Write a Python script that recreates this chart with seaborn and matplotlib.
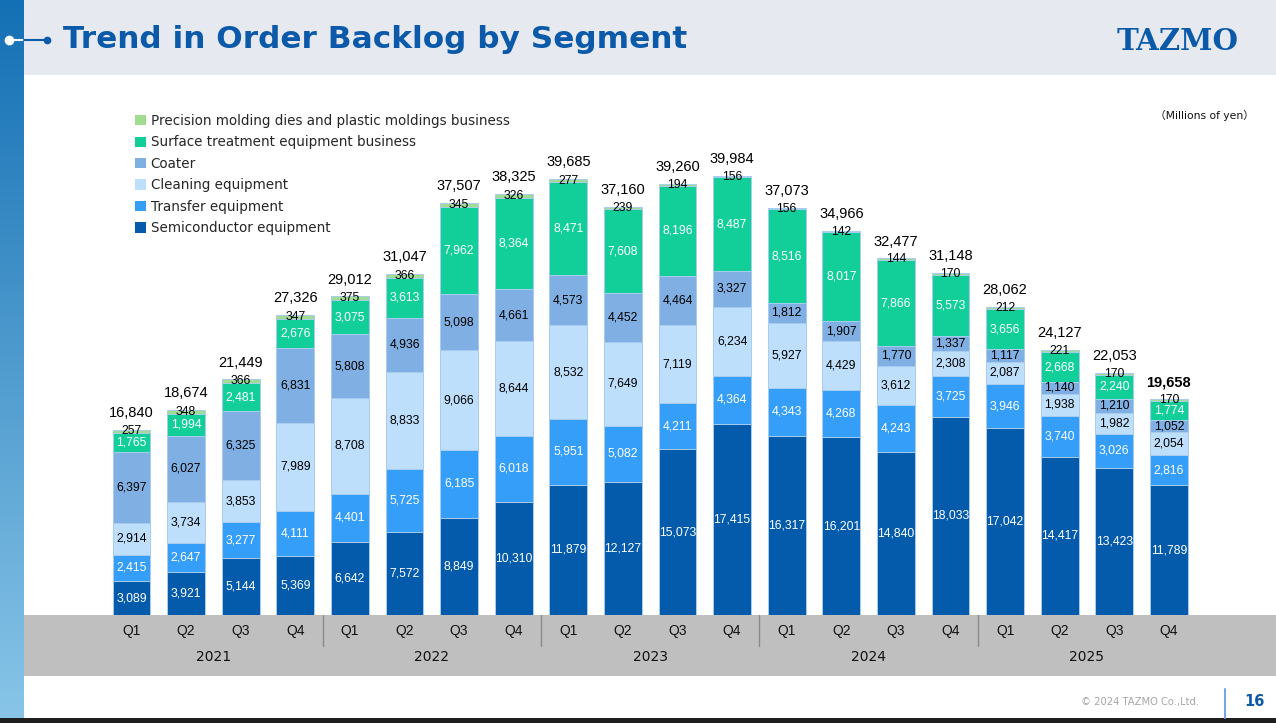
import numpy as np
import matplotlib
matplotlib.use("Agg")
import matplotlib.pyplot as plt
import seaborn as sns
import matplotlib.transforms as mtransforms
from matplotlib.patches import Rectangle, Patch
from matplotlib.lines import Line2D
from matplotlib import font_manager

# ---------------- data ----------------
years = ["2021", "2022", "2023", "2024", "2025"]
quarters = ["Q1", "Q2", "Q3", "Q4"]
periods = [f"{y} {q}" for y in years for q in quarters]

semiconductor = [3089, 3921, 5144, 5369, 6642, 7572, 8849, 10310, 11879, 12127,
                 15073, 17415, 16317, 16201, 14840, 18033, 17042, 14417, 13423, 11789]
transfer = [2415, 2647, 3277, 4111, 4401, 5725, 6185, 6018, 5951, 5082,
            4211, 4364, 4343, 4268, 4243, 3725, 3946, 3740, 3026, 2816]
cleaning = [2914, 3734, 3853, 7989, 8708, 8833, 9066, 8644, 8532, 7649,
            7119, 6234, 5927, 4429, 3612, 2308, 2087, 1938, 1982, 2054]
coater = [6397, 6027, 6325, 6831, 5808, 4936, 5098, 4661, 4573, 4452,
          4464, 3327, 1812, 1907, 1770, 1337, 1117, 1140, 1210, 1052]
surface = [1765, 1994, 2481, 2676, 3075, 3613, 7962, 8364, 8471, 7608,
           8196, 8487, 8516, 8017, 7866, 5573, 3656, 2668, 2240, 1774]
precision = [257, 348, 366, 347, 375, 366, 345, 326, 277, 239,
             194, 156, 156, 142, 144, 170, 212, 221, 170, 170]
totals = [16840, 18674, 21449, 27326, 29012, 31047, 37507, 38325, 39685, 37160,
          39260, 39984, 37073, 34966, 32477, 31148, 28062, 24127, 22053, 19658]

segment_names = ["Semiconductor equipment", "Transfer equipment", "Cleaning equipment",
                 "Coater", "Surface treatment equipment business",
                 "Precision molding dies and plastic moldings business"]

# ---------------- style ----------------
colors = ["#045aab", "#359ef9", "#bddffb", "#80b0e3", "#12cf99", "#a2dc91"]
label_colors = ["white", "white", "black", "black", "white", "black"]
edge = "#a9cdf0"
blue_txt = "#0b5aa9"

sns.set_theme(style="white")
plt.rcParams["font.family"] = ["DejaVu Sans"]

installed = {f.name for f in font_manager.fontManager.ttflist}
if "Liberation Sans Narrow" in installed:
    seg_font, seg_fs = "Liberation Sans Narrow", 10.2
else:
    seg_font, seg_fs = "Liberation Sans", 8.8
title_font = "DejaVu Sans Condensed" if "DejaVu Sans Condensed" in installed else "DejaVu Sans"

W, H = 1276, 723
fig = plt.figure(figsize=(W / 100, H / 100), dpi=100)
fig.patch.set_facecolor("white")


def fx(px):
    return px / W


def fy(py):
    return 1 - py / H


# background decorations
fig.add_artist(Rectangle((fx(24), fy(75)), 1 - fx(24), fy(0) - fy(75),
                         transform=fig.transFigure, facecolor="#e6e9f0", edgecolor="none", zorder=-2))
fig.add_artist(Rectangle((fx(22), fy(676)), 1 - fx(22), fy(615) - fy(676),
                         transform=fig.transFigure, facecolor="#bfbfbf", edgecolor="none", zorder=-2))
fig.add_artist(Rectangle((0, 0), 1, fy(718), transform=fig.transFigure,
                         facecolor="#1e1e1e", edgecolor="none", zorder=-2))

strip = fig.add_axes([0, fy(718), fx(24), fy(0) - fy(718)])
top_c = np.array([0x14, 0x70, 0xb4]) / 255
bot_c = np.array([0x88, 0xc5, 0xe8]) / 255
t = np.linspace(0, 1, 256)[:, None, None]
grad = top_c[None, None, :] * (1 - t) + bot_c[None, None, :] * t
strip.imshow(grad, aspect="auto", extent=[0, 1, 0, 1])
strip.set_axis_off()

# ---------------- main chart ----------------
ax = fig.add_axes([fx(22), fy(615), 1 - fx(22), fy(80) - fy(615)])
ax.patch.set_alpha(0)

arr = np.array([semiconductor, transfer, cleaning, coater, surface, precision])
cum = np.cumsum(arr, axis=0)
bottoms = cum - arr

for k in range(5, -1, -1):
    sns.barplot(x=periods, y=cum[k], order=periods, color=colors[k], saturation=1,
                width=0.69, edgecolor=edge, linewidth=0.7, errorbar=None, ax=ax)

n = len(periods)
for k in range(6):
    for i in range(n):
        ax.text(i, bottoms[k, i] + arr[k, i] / 2, f"{arr[k, i]:,}", ha="center", va="center",
                color=label_colors[k], fontsize=seg_fs, family=seg_font, zorder=5)

for i in range(n):
    ax.annotate(f"{totals[i]:,}", xy=(i, cum[5, i]), xytext=(0, 12), textcoords="offset points",
                ha="center", va="center", fontsize=10.5, family="Liberation Sans",
                fontweight="bold" if i == n - 1 else "normal", color="black")

ax.set_xlim((22 - 131.5) / 54.6, (1276 - 131.5) / 54.6)
ax.set_ylim(0, 48700)
ax.set_xticks(range(n))
ax.set_xticklabels(quarters * len(years), fontsize=10, family="Liberation Sans", color="#111111")
ax.tick_params(axis="x", length=0, pad=6.5)
ax.set_yticks([])
ax.set_xlabel("")
ax.set_ylabel("")
for s in ax.spines.values():
    s.set_visible(False)

blend = mtransforms.blended_transform_factory(ax.transData, fig.transFigure)
for j, y in enumerate(years):
    ax.text(j * 4 + 1.5, fy(657), y, transform=blend, ha="center", va="center",
            fontsize=10, family="DejaVu Sans", color="#111111")
for j in range(1, len(years)):
    ax.plot([j * 4 - 0.5] * 2, [fy(615), fy(646)], transform=blend, color="#8a8a8a",
            lw=1, clip_on=False)

renderer = fig.canvas.get_renderer()


def fit(txt, target_px):
    w = txt.get_window_extent(renderer).width
    txt.set_fontsize(txt.get_fontsize() * target_px / w)


# legend
probe = fig.text(0, 0, segment_names[5], fontsize=10, family="DejaVu Sans")
fit(probe, 359)
leg_fs = probe.get_fontsize()
probe.remove()
handles = [Patch(facecolor=colors[k], edgecolor="none") for k in range(5, -1, -1)]
labels = [segment_names[k] for k in range(5, -1, -1)]
fig.legend(handles, labels, loc="upper left", bbox_to_anchor=(fx(135), fy(114)),
           frameon=False, fontsize=leg_fs, handlelength=0.8, handleheight=0.8,
           handletextpad=0.35, labelspacing=0.55, borderpad=0, borderaxespad=0,
           prop={"family": "DejaVu Sans", "size": leg_fs})

# ---------------- header / footer ----------------
title = fig.text(fx(63), fy(40), "Trend in Order Backlog by Segment", fontsize=24,
                 fontweight="bold", color=blue_txt, va="center", ha="left", family=title_font)
fit(title, 623)

fig.add_artist(Line2D([fx(9), fx(24)], [fy(40), fy(40)], transform=fig.transFigure,
                      color="white", lw=1.5))
fig.add_artist(Line2D([fx(24), fx(46)], [fy(40), fy(40)], transform=fig.transFigure,
                      color=blue_txt, lw=1.5))
fig.add_artist(Line2D([fx(9)], [fy(40)], transform=fig.transFigure, marker="o", ms=6,
                      mfc="white", mec="white", lw=0))
fig.add_artist(Line2D([fx(47)], [fy(40)], transform=fig.transFigure, marker="o", ms=4.5,
                      mfc=blue_txt, mec=blue_txt, lw=0))

logo = fig.text(fx(1178), fy(41), "TAZMO", fontsize=18, fontweight="bold", color=blue_txt,
                ha="center", va="center", family="DejaVu Serif")
fit(logo, 122)

unit = fig.text(fx(1254), fy(115), "\uff08Millions of yen\uff09", ha="right", va="center",
                fontsize=8, color="#111111", family=["DejaVu Sans", "Noto Sans CJK JP"])
fit(unit, 99)

copy = fig.text(fx(1199), fy(702), "\u00a9 2024 TAZMO Co.,Ltd.", ha="right", va="center",
                fontsize=7.5, color="#a6a6a6", family="DejaVu Sans")
fit(copy, 118)
fig.text(fx(1254), fy(702), "16", ha="center", va="center", fontsize=10.5,
         fontweight="bold", color=blue_txt, family="DejaVu Sans")
fig.add_artist(Line2D([fx(1225)] * 2, [fy(689), fy(718)], transform=fig.transFigure,
                      color="#7aa6d8", lw=1.5))

fig.savefig("out.png", dpi=100, facecolor="white")
